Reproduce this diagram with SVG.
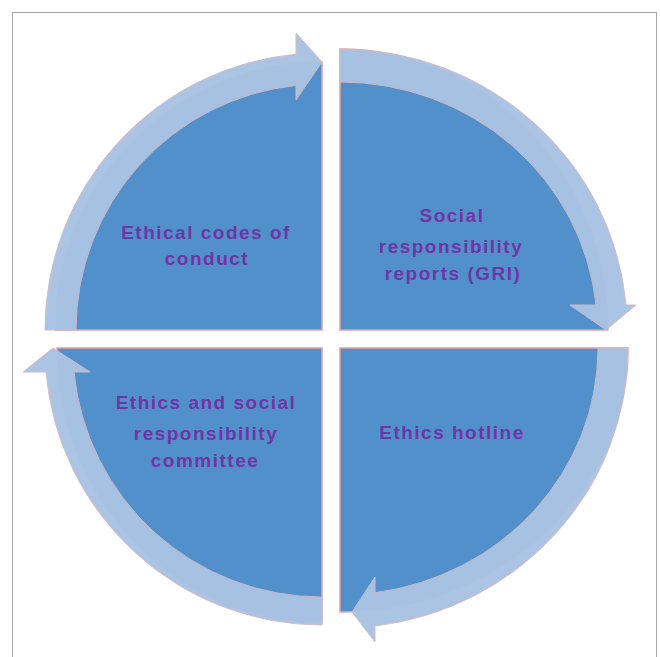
<svg xmlns="http://www.w3.org/2000/svg" width="660" height="657" viewBox="0 0 660 657">
<style>
.pie{fill:#5190ca;stroke:#e9a0a0;stroke-width:1.5}
.band{fill:#a9c3e3;stroke:#d2b9c4;stroke-width:1;opacity:0.97}
.lbl{font-family:"Liberation Sans",Arial,sans-serif;font-weight:bold;font-size:19px;letter-spacing:1.5px;fill:#7034a6;text-anchor:middle}
</style>
<rect width="660" height="657" fill="#ffffff"/>
<rect x="12.5" y="12.5" width="644" height="660" fill="none" stroke="#a6a6a6" stroke-width="1"/>
<g id="node-tl">
<path class="pie" d="M322,330 L55,330 A267 268 0 0 1 322,62 Z"/>
<text class="lbl" x="206" y="239">Ethical codes of</text>
<text class="lbl" x="207" y="265">conduct</text>
</g>
<g id="node-tr">
<path class="pie" d="M340,330 L340,49 A268 281 0 0 1 608,330 Z"/>
<text class="lbl" x="452" y="222">Social</text>
<text class="lbl" x="451" y="253">responsibility</text>
<text class="lbl" x="453" y="280">reports (GRI)</text>
</g>
<g id="node-br">
<path class="pie" d="M340,348 L628,348 A288 264 0 0 1 340,612 Z"/>
<text class="lbl" x="452" y="439">Ethics hotline</text>
</g>
<g id="node-bl">
<path class="pie" d="M322,348 L322,623 A265 275 0 0 1 57,348 Z"/>
<text class="lbl" x="206" y="409">Ethics and social</text>
<text class="lbl" x="206" y="440">responsibility</text>
<text class="lbl" x="205" y="467">committee</text>
</g>
<g id="connectors">
<path class="band" d="M45,330 A277 277 0 0 1 296,54.2 L296,33 L322,62 L296,100 L296,85.4 A246 246 0 0 0 76,330 Z"/>
<path class="band" d="M340,49 A287 281 0 0 1 626,305 L636,305 L606,330 L570,305 L596,305 A257 248 0 0 0 340,82 Z"/>
<path class="band" d="M628,348 A288 280 0 0 1 375,626 L375,642 L352,612 L375,577 L375,592.7 A258 247 0 0 0 598,348 Z"/>
<path class="band" d="M322,625 A277 277 0 0 1 46,372 L23,372 L53,348 L90,372 L74,372 A249 249 0 0 0 322,597 Z"/>
</g>
</svg>
